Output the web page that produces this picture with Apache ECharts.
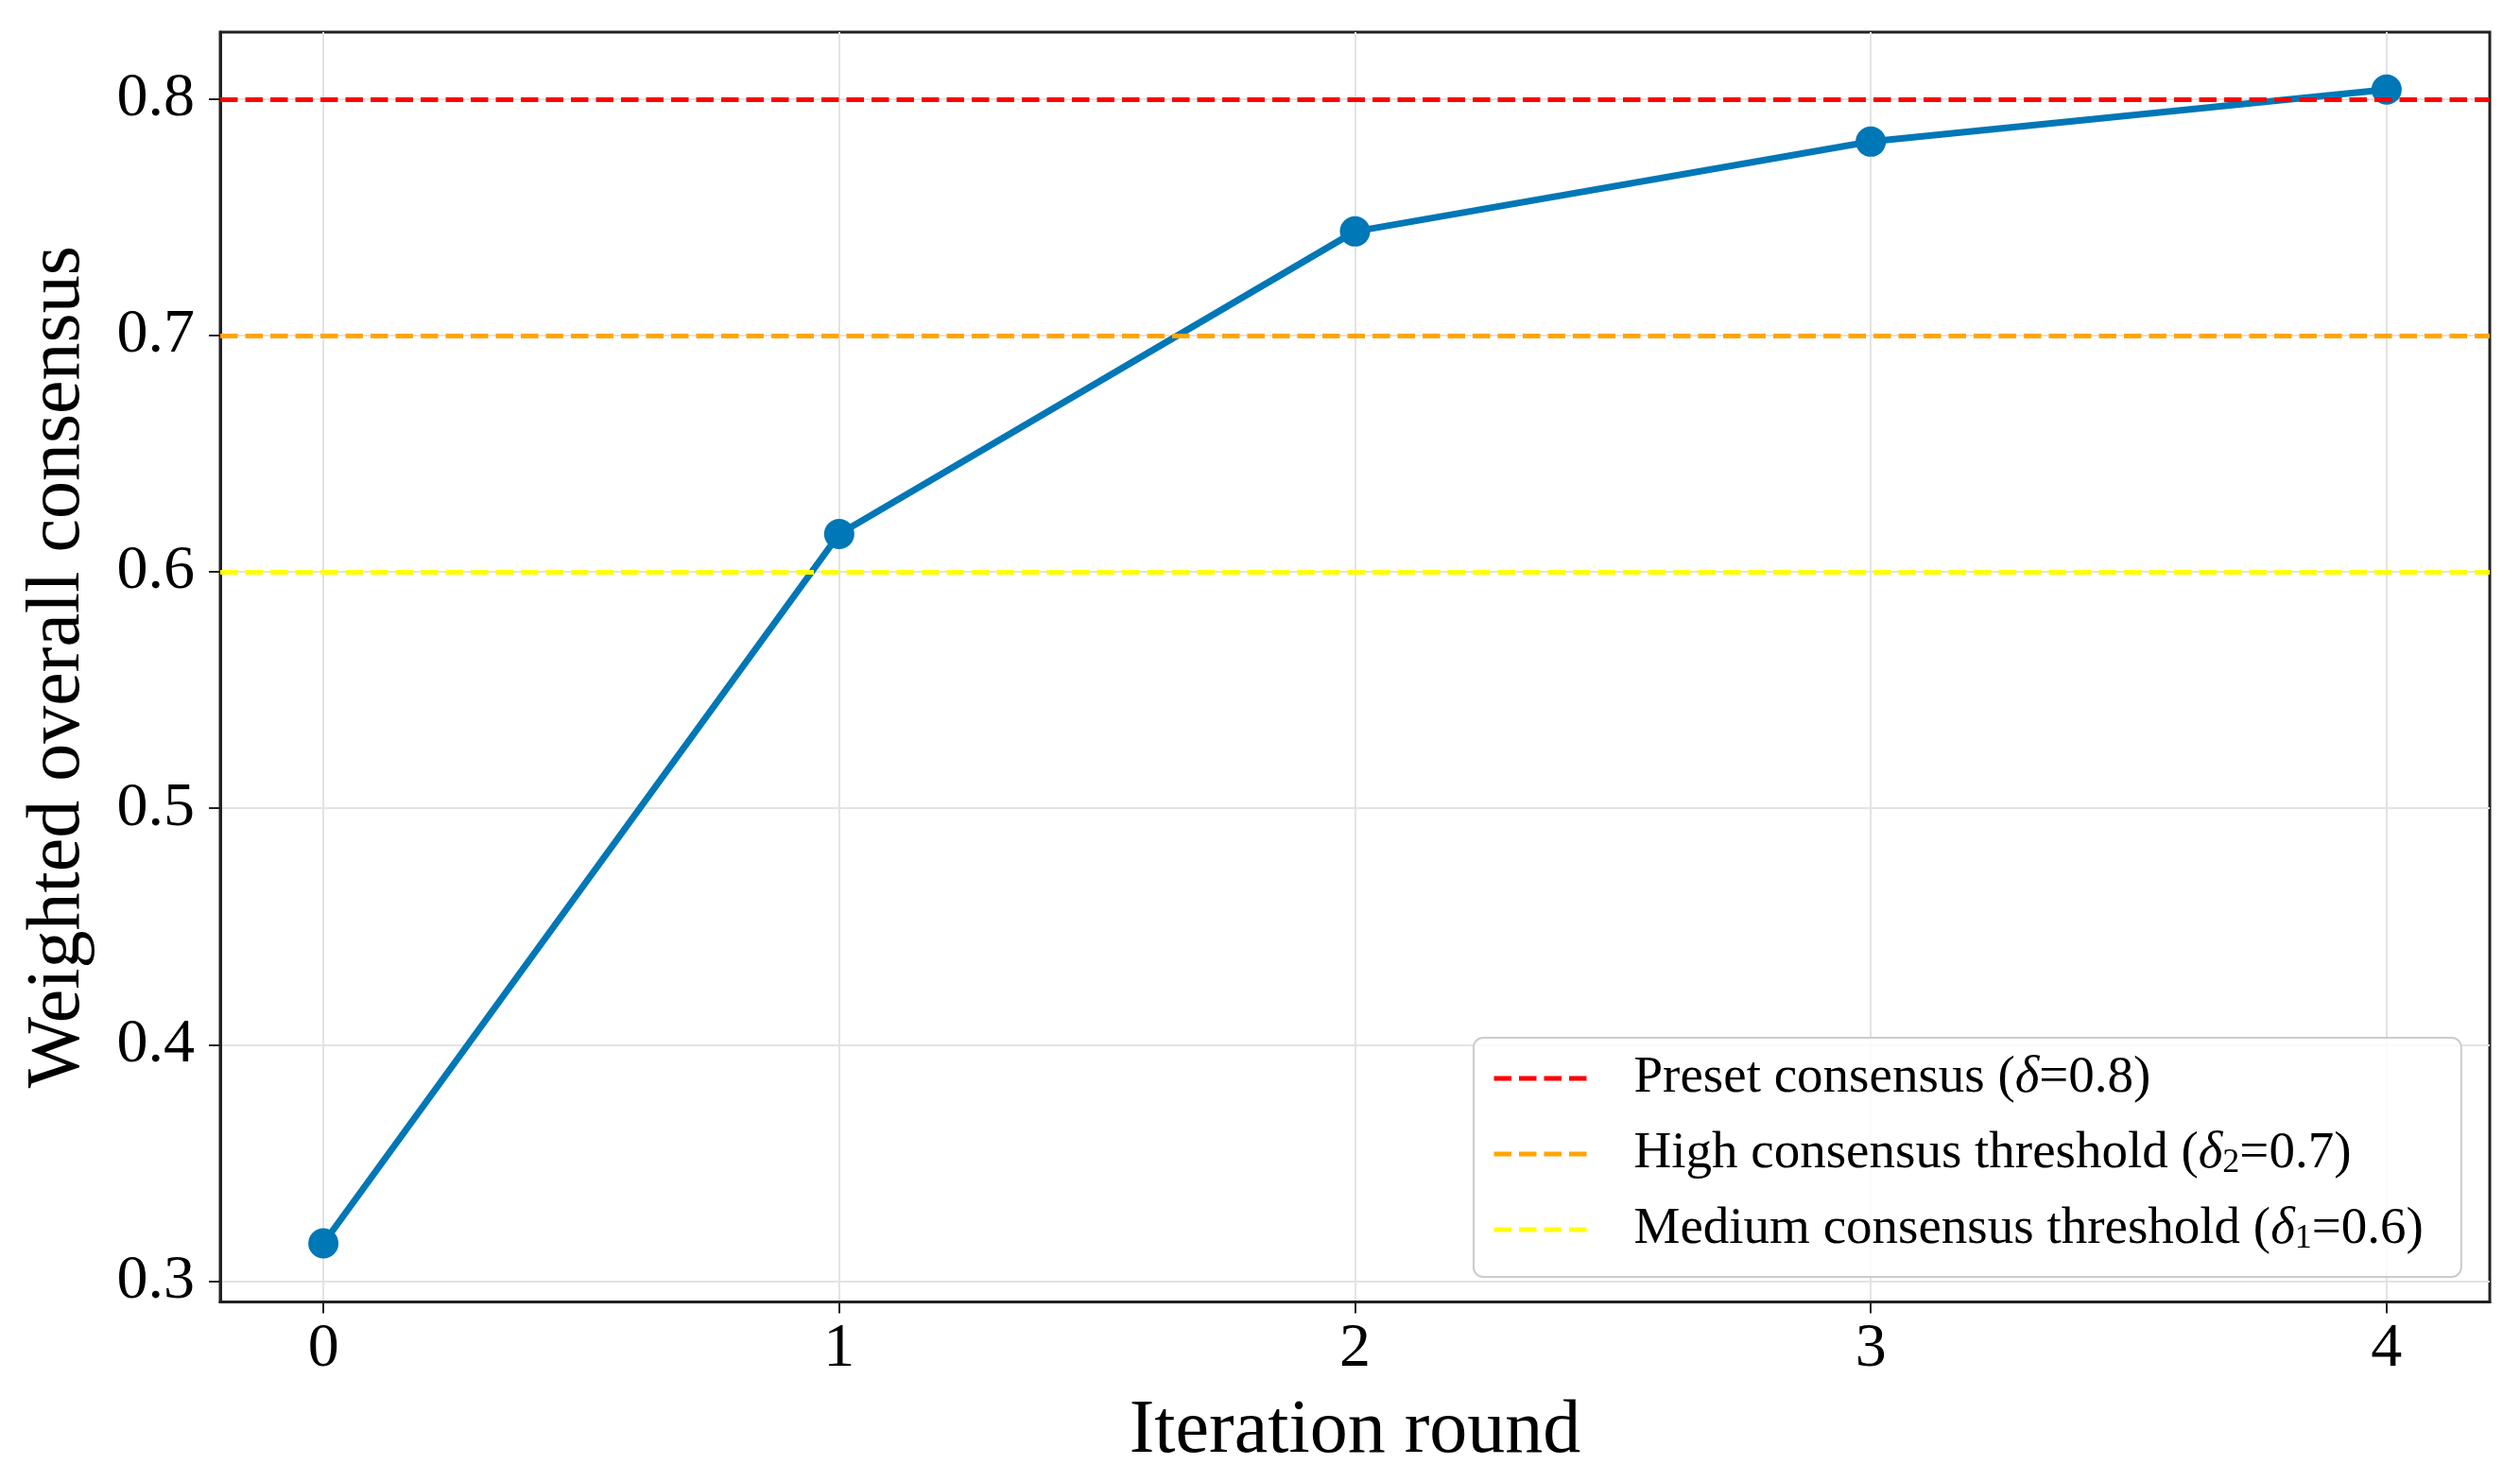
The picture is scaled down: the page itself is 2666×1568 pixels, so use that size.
<!DOCTYPE html>
<html><head><meta charset="utf-8">
<script src="https://cdn.jsdelivr.net/npm/echarts@6/dist/echarts.min.js"></script>
<style>html,body{margin:0;padding:0;background:#fff}#c{width:2666px;height:1568px}</style>
</head><body><div id="c"></div>
<script>
const rounds = [0, 1, 2, 3, 4];
const consensus = [0.316, 0.616, 0.744, 0.782, 0.804];
const yTicks = [0.3, 0.4, 0.5, 0.6, 0.7, 0.8];
const thresholdNames = ['Preset consensus', 'High consensus threshold', 'Medium consensus threshold'];
const thresholdValues = [0.8, 0.7, 0.6];
const thresholdSubs = ['', '2', '1'];
const thresholdColors = ['#ff0000', '#ffa500', '#ffff00'];
const xLimits = [-0.2, 4.2];
const yLimits = [0.2912, 0.8283];

const FONT = 'Liberation Serif';
const dash = [18.5, 8];

const chart = echarts.init(document.getElementById('c'), null, {renderer: 'canvas'});

const thresholdSeries = thresholdNames.map((n, i) => ({
  name: n,
  type: 'line',
  data: [],
  symbol: 'none',
  z: 5,
  lineStyle: {color: thresholdColors[i], width: 5, type: dash},
  itemStyle: {color: thresholdColors[i]},
  markLine: {
    silent: true,
    symbol: ['none', 'none'],
    label: {show: false},
    emphasis: {disabled: true},
    lineStyle: {color: thresholdColors[i], width: 5, type: dash},
    data: [{yAxis: thresholdValues[i]}]
  }
}));

const legendLabel = {};
thresholdNames.forEach((n, i) => {
  legendLabel[n] = n + ' ({d|δ}' + (thresholdSubs[i] ? '{s|' + thresholdSubs[i] + '}' : '') + '=' + thresholdValues[i].toFixed(1) + ')';
});

chart.setOption({
  animation: false,
  backgroundColor: '#ffffff',
  grid: {left: 233, right: 32, top: 34, bottom: 190.5, show: true, borderColor: '#222', borderWidth: 3, backgroundColor: 'transparent'},
  xAxis: {
    type: 'value', min: xLimits[0], max: xLimits[1], splitNumber: 5,
    axisLine: {show: true, onZero: false, lineStyle: {color: '#222', width: 3}},
    axisTick: {show: true, inside: false, length: 12, customValues: rounds, lineStyle: {color: '#222', width: 2}},
    axisLabel: {customValues: rounds, fontSize: 66, fontFamily: FONT, color: '#000', margin: 17},
    splitLine: {show: true, lineStyle: {color: '#e3e3e3', width: 2}},
    name: 'Iteration round', nameLocation: 'middle', nameGap: 97,
    nameTextStyle: {fontSize: 80, fontFamily: FONT, color: '#000'}
  },
  yAxis: {
    type: 'value', min: yLimits[0], max: yLimits[1], splitNumber: 5,
    axisLine: {show: true, onZero: false, lineStyle: {color: '#222', width: 3}},
    axisTick: {show: true, inside: false, length: 12, customValues: yTicks, lineStyle: {color: '#222', width: 2}},
    axisLabel: {customValues: yTicks, fontSize: 66, fontFamily: FONT, color: '#000', margin: 27, formatter: v => v.toFixed(1)},
    splitLine: {show: true, lineStyle: {color: '#e3e3e3', width: 2}},
    name: 'Weighted overall consensus', nameLocation: 'middle', nameGap: 131,
    nameTextStyle: {fontSize: 80, fontFamily: FONT, color: '#000'}
  },
  legend: {
    orient: 'vertical', left: 1559, top: 1098,
    itemWidth: 106, itemHeight: 20, itemGap: 22,
    padding: [15, 40, 22, 19],
    backgroundColor: 'rgba(255,255,255,0.8)', borderColor: '#cccccc', borderWidth: 2, borderRadius: 10,
    itemStyle: {opacity: 0},
    lineStyle: {width: 5, type: dash},
    data: thresholdNames,
    formatter: n => legendLabel[n],
    textStyle: {
      fontFamily: FONT, fontSize: 55, color: '#000', padding: [0, 0, 0, 37], lineHeight: 56,
      rich: {
        d: {fontFamily: FONT, fontSize: 55, fontStyle: 'italic', color: '#000', lineHeight: 56},
        s: {fontFamily: FONT, fontSize: 36, color: '#000', lineHeight: 56, verticalAlign: 'bottom', padding: [22, 0, 0, 0]}
      }
    }
  },
  series: [
    {
      name: 'Weighted overall consensus', type: 'line', z: 3,
      data: rounds.map((r, i) => [r, consensus[i]]),
      symbol: 'circle', symbolSize: 32,
      lineStyle: {color: '#0077b6', width: 7},
      itemStyle: {color: '#0077b6'}
    },
    ...thresholdSeries
  ]
});
</script>
</body></html>
